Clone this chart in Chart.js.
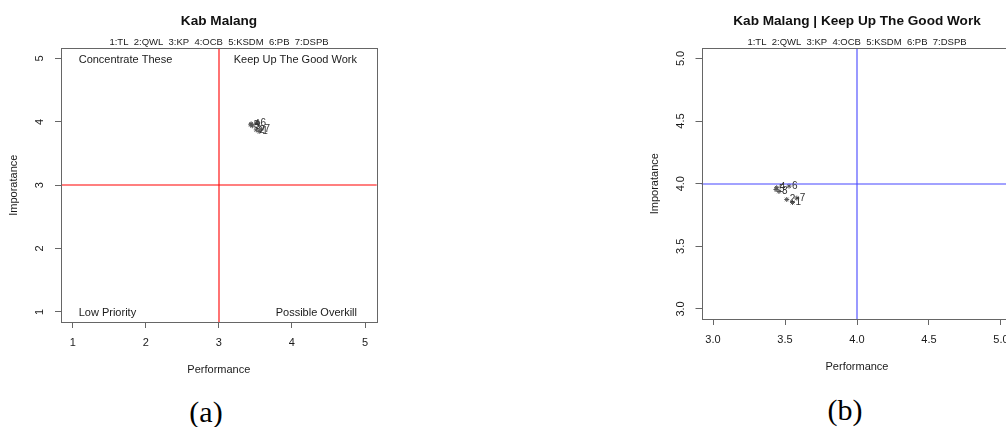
<!DOCTYPE html>
<html>
<head>
<meta charset="utf-8">
<script src="https://cdn.jsdelivr.net/npm/chart.js@4.4.1/dist/chart.umd.min.js"></script>
<style>
  html, body { margin: 0; padding: 0; background: #fff; overflow: hidden; width: 1006px; height: 427px; }
  #wrap { position: relative; width: 1006px; height: 427px; overflow: hidden; }
  canvas { position: absolute; top: 0; }
  .cap { position: absolute; width: 100px; text-align: center; font-family: "Liberation Serif", "Times New Roman", serif; font-size: 30px; line-height: 30px; color: #000; }
</style>
</head>
<body>
<div id="wrap">
  <canvas id="chartA" width="438" height="382" style="left:0px;"></canvas>
  <canvas id="chartB" width="434" height="379" style="left:640px;"></canvas>
  <div class="cap" style="left:156px; top:397px;">(a)</div>
  <div class="cap" style="left:795px; top:395px;">(b)</div>
</div>
<script>
// ---- data ----
const pointLabels = ['1', '2', '3', '4', '5', '6', '7'];
const performance = [3.552, 3.512, 3.458, 3.442, 3.437, 3.528, 3.582];
const importance  = [3.850, 3.874, 3.938, 3.968, 3.954, 3.981, 3.885];
const legendText = '1:TL  2:QWL  3:KP  4:OCB  5:KSDM  6:PB  7:DSPB';

const titleA = 'Kab Malang';
const titleB = 'Kab Malang | Keep Up The Good Work';
const xTitle = 'Performance';
const yTitle = 'Imporatance';

const ticksA = [1, 2, 3, 4, 5];
const tickLabelsA = ['1', '2', '3', '4', '5'];
const rangeA = [0.84, 5.16];
const cutA = 3;

const ticksB = [3.0, 3.5, 4.0, 4.5, 5.0];
const tickLabelsB = ['3.0', '3.5', '4.0', '4.5', '5.0'];
const rangeB = [2.92, 5.08];
const cutB = 4;

const quadrantText = ['Concentrate These', 'Keep Up The Good Work', 'Low Priority', 'Possible Overkill'];

// ---- helpers ----
const FONT = "'Liberation Sans', Arial, sans-serif";
const TEXT = '#1a1a1a';
const LINE = '#666';

function makeBoxPlugin(o) {
  return {
    id: 'boxPlugin' + o.key,
    afterDraw(chart) {
      const {ctx, chartArea: a, scales} = chart;
      const sx = scales.x, sy = scales.y;
      ctx.save();
      // quadrant cut lines
      ctx.lineWidth = 1.1;
      ctx.strokeStyle = o.cutColor;
      const xc = Math.round(sx.getPixelForValue(o.cut));
      const yc = Math.round(sy.getPixelForValue(o.cut));
      ctx.beginPath();
      ctx.moveTo(xc, a.top);
      ctx.lineTo(xc, a.bottom);
      ctx.stroke();
      ctx.beginPath();
      ctx.moveTo(a.left, yc);
      ctx.lineTo(a.right, yc);
      ctx.stroke();
      // quadrant labels
      if (o.quadrants) {
        ctx.fillStyle = TEXT;
        ctx.font = '11px ' + FONT;
        ctx.textBaseline = 'middle';
        const lo = o.ticks[0], hi = o.ticks[o.ticks.length - 1];
        const q = [[lo, hi, 'left'], [hi, hi, 'right'], [lo, lo, 'left'], [hi, lo, 'right']];
        q.forEach((d, i) => {
          const px = sx.getPixelForValue(d[0]);
          const py = sy.getPixelForValue(d[1]);
          ctx.textAlign = d[2];
          ctx.fillText(o.quadrants[i], px + (d[2] === 'left' ? 6 : -8), py + 1);
        });
      }
      // plot box
      ctx.strokeStyle = LINE;
      ctx.lineWidth = 1;
      ctx.strokeRect(Math.round(a.left) + 0.5, Math.round(a.top) + 0.5, Math.round(a.right - a.left), Math.round(a.bottom - a.top));
      // point labels
      const meta = chart.getDatasetMeta(0);
      ctx.fillStyle = '#333';
      ctx.font = '10px ' + FONT;
      ctx.textAlign = 'left';
      ctx.textBaseline = 'middle';
      meta.data.forEach((el, i) => {
        ctx.fillText(pointLabels[i], el.x + 3, el.y);
      });
      ctx.restore();
    }
  };
}

function makeChart(id, o) {
  const pts = performance.map((p, i) => ({x: p, y: importance[i]}));
  return new Chart(document.getElementById(id), {
    type: 'scatter',
    data: {
      datasets: [{
        data: pts,
        pointStyle: 'star',
        radius: 2.5,
        borderColor: '#555',
        backgroundColor: '#555',
        borderWidth: 1
      }]
    },
    plugins: [makeBoxPlugin(o)],
    options: {
      responsive: false,
      animation: false,
      devicePixelRatio: 1,
      layout: { padding: 0 },
      plugins: {
        legend: { display: false },
        tooltip: { enabled: false },
        title: {
          display: true, text: o.title, color: '#111',
          font: { family: FONT, size: 13.6, weight: 'bold' },
          padding: { top: 13.1, bottom: 7.6 }
        },
        subtitle: {
          display: true, text: legendText, color: TEXT,
          font: { family: FONT, size: 9.5 },
          padding: { top: 0, bottom: 0 }
        }
      },
      scales: {
        x: {
          type: 'linear', position: 'bottom',
          min: o.range[0], max: o.range[1],
          afterBuildTicks: s => { s.ticks = o.ticks.map(v => ({value: v})); },
          afterFit: s => { s.height = 60; },
          ticks: {
            color: TEXT, font: { family: FONT, size: 11 }, padding: 8.4,
            minRotation: 0, maxRotation: 0, autoSkip: false,
            callback: (v, i) => o.tickLabels[i]
          },
          grid: { display: true, drawOnChartArea: false, drawTicks: true, tickLength: 6, color: LINE, tickColor: LINE },
          border: { display: false },
          title: { display: true, text: xTitle, color: TEXT, font: { family: FONT, size: 11 }, padding: { top: 0, bottom: 5 } }
        },
        y: {
          type: 'linear', position: 'left',
          min: o.range[0], max: o.range[1],
          afterBuildTicks: s => { s.ticks = o.ticks.map(v => ({value: v})); },
          afterFit: s => { s.width = o.yWidth; },
          ticks: {
            color: TEXT, font: { family: FONT, size: 11 }, padding: o.yPad,
            minRotation: 90, maxRotation: 90, crossAlign: 'center', autoSkip: false,
            callback: (v, i) => o.tickLabels[i]
          },
          grid: { display: true, drawOnChartArea: false, drawTicks: true, tickLength: 6, color: LINE, tickColor: LINE },
          border: { display: false },
          title: { display: true, text: yTitle, color: TEXT, font: { family: FONT, size: 11 }, padding: { top: o.yTitlePad, bottom: 0 } }
        },
        yR: {
          type: 'linear', position: 'right', min: 0, max: 1,
          afterFit: s => { s.width = o.rWidth; },
          ticks: { display: false },
          grid: { display: false },
          border: { display: false }
        }
      }
    }
  });
}

makeChart('chartA', {
  key: 'A', title: titleA, cut: cutA, cutColor: 'rgb(255, 0, 0)', quadrants: quadrantText,
  ticks: ticksA, tickLabels: tickLabelsA, range: rangeA,
  yWidth: 61, rWidth: 61.3, yPad: 11.9, yTitlePad: 7.4
});
makeChart('chartB', {
  key: 'B', title: titleB, cut: cutB, cutColor: 'rgb(70, 70, 255)', quadrants: null,
  ticks: ticksB, tickLabels: tickLabelsB, range: rangeB,
  yWidth: 61.5, rWidth: 61.5, yPad: 6.9, yTitlePad: 8.4
});
</script>
</body>
</html>
